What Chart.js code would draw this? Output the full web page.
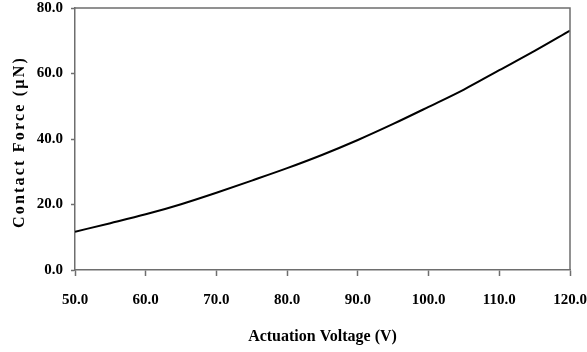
<!DOCTYPE html>
<html>
<head>
<meta charset="utf-8">
<script src="https://cdn.jsdelivr.net/npm/chart.js@4/dist/chart.umd.min.js"></script>
<style>
html,body{margin:0;padding:0;background:#fff;}
#wrap{width:587px;height:352px;position:relative;}
</style>
</head>
<body>
<div id="wrap"><canvas id="c" width="587" height="352"></canvas></div>
<script>
const voltages = [50, 55, 60, 65, 70, 75, 80, 85, 90, 95, 100, 105, 110, 115, 120];
const contactForce = [11.7, 14.3, 17.0, 20.1, 23.6, 27.3, 31.1, 35.2, 39.7, 44.6, 49.8, 55.1, 61.0, 66.9, 73.1];
const xTickValues = [50, 60, 70, 80, 90, 100, 110, 120];
const yTickValues = [0, 20, 40, 60, 80];
const xTitle = 'Actuation Voltage (V)';
const yTitle = 'Contact Force (\u00b5N)';

const axisColor = '#6e6e6e';
const fontFam = "'Liberation Serif', 'Times New Roman', serif";

const framePlugin = {
  id: 'frame',
  afterDatasetsDraw(chart) {
    const {ctx, chartArea: a} = chart;
    ctx.save();
    ctx.strokeStyle = axisColor;
    ctx.lineWidth = 1.5;
    ctx.beginPath();
    ctx.moveTo(a.left, a.top);
    ctx.lineTo(a.right, a.top);
    ctx.lineTo(a.right, a.bottom);
    ctx.stroke();
    ctx.restore();
  }
};

function spacedTitle(scale) {
  if (scale._spacedPatched) return;
  const orig = scale.drawTitle;
  scale.drawTitle = function() {
    const ctx = this.ctx;
    ctx.save();
    ctx.letterSpacing = '2.2px';
    ctx.translate(0, 3);
    orig.call(this);
    ctx.restore();
  };
  scale._spacedPatched = true;
}

new Chart(document.getElementById('c'), {
  type: 'line',
  data: {
    datasets: [{
      data: voltages.map((v, i) => ({x: v, y: contactForce[i]})),
      borderColor: '#000',
      borderWidth: 2,
      pointRadius: 0,
      cubicInterpolationMode: 'monotone',
      fill: false
    }]
  },
  options: {
    responsive: false,
    animation: false,
    devicePixelRatio: 1,
    layout: {padding: {top: 8, right: 17, left: 0, bottom: 0}},
    plugins: {legend: {display: false}, tooltip: {enabled: false}},
    scales: {
      x: {
        type: 'linear',
        min: 50, max: 120,
        afterBuildTicks: s => { s.ticks = xTickValues.map(v => ({value: v})); },
        afterFit: s => { s.height = 82; s.paddingLeft = 0; s.paddingRight = 0; },
        border: {display: true, color: axisColor, width: 1.5},
        grid: {drawOnChartArea: false, drawTicks: true, tickLength: 6, tickColor: axisColor, tickWidth: 1.5},
        ticks: {
          color: '#000', padding: 15, maxRotation: 0, autoSkip: false,
          font: {family: fontFam, size: 15, weight: 'bold'},
          callback: v => Number(v).toFixed(1)
        },
        title: {
          display: true, text: xTitle, color: '#000',
          font: {family: fontFam, size: 16, weight: 'bold'},
          padding: {top: 0, bottom: 6}
        }
      },
      y: {
        min: 0, max: 80,
        afterBuildTicks: s => { s.ticks = yTickValues.map(v => ({value: v})); },
        afterFit: s => { s.width = 75; s.paddingTop = 0; s.paddingBottom = 0; spacedTitle(s); },
        border: {display: true, color: axisColor, width: 1.5},
        grid: {drawOnChartArea: false, drawTicks: true, tickLength: 4, tickColor: axisColor, tickWidth: 1.5},
        ticks: {
          color: '#000', padding: 8,
          font: {family: fontFam, size: 15, weight: 'bold'},
          callback: v => Number(v).toFixed(1)
        },
        title: {
          display: true, text: yTitle, color: '#000',
          font: {family: fontFam, size: 16, weight: 'bold'},
          padding: {top: 10, bottom: 0}
        }
      }
    }
  },
  plugins: [framePlugin]
});
</script>
</body>
</html>
